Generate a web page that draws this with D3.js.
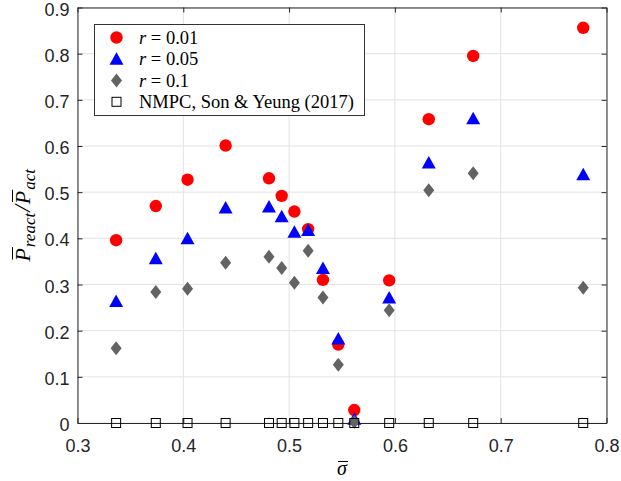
<!DOCTYPE html>
<html><head><meta charset="utf-8">
<script src="https://cdn.jsdelivr.net/npm/d3@7"></script>
<style>body{margin:0;background:#fff}svg{display:block}</style>
</head><body>
<script>
const sigma = [0.3365, 0.374, 0.404, 0.440, 0.481, 0.493, 0.505, 0.518, 0.532, 0.5465, 0.5616, 0.5946, 0.632, 0.674, 0.778];
const r001 = [0.396, 0.470, 0.527, 0.601, 0.530, 0.492, 0.458, 0.420, 0.310, 0.170, 0.028, 0.309, 0.658, 0.795, 0.856];
const r005 = [0.264, 0.357, 0.400, 0.467, 0.469, 0.448, 0.414, 0.418, 0.336, 0.183, 0.009, 0.272, 0.564, 0.660, 0.539];
const r01  = [0.162, 0.284, 0.291, 0.347, 0.360, 0.336, 0.304, 0.373, 0.272, 0.126, 0.002, 0.244, 0.504, 0.541, 0.293];
const nmpc = [0, 0, 0, 0, 0, 0, 0, 0, 0, 0, 0, 0, 0, 0, 0];
const xTicks = [0.3, 0.4, 0.5, 0.6, 0.7, 0.8];
const yTicks = [0, 0.1, 0.2, 0.3, 0.4, 0.5, 0.6, 0.7, 0.8, 0.9];
const legendLabels = ["r = 0.01", "r = 0.05", "r = 0.1", "NMPC, Son & Yeung (2017)"];

const W = 621, H = 481;
const L = 77.5, R = 606.5, T = 7.5, B = 423;
const x = d3.scaleLinear().domain([0.3, 0.8]).range([L, R]);
const y = d3.scaleLinear().domain([0, 0.9]).range([B, T]);

const svg = d3.select("body").append("svg").attr("width", W).attr("height", H);

// grid
const g = svg.append("g");
g.selectAll(".gx").data(xTicks).enter().append("line")
  .attr("x1", d => x(d)).attr("x2", d => x(d)).attr("y1", T).attr("y2", B)
  .attr("stroke", "#e3e3e3").attr("stroke-width", 1);
g.selectAll(".gy").data(yTicks).enter().append("line")
  .attr("y1", d => y(d)).attr("y2", d => y(d)).attr("x1", L).attr("x2", R)
  .attr("stroke", "#e3e3e3").attr("stroke-width", 1);

// axes
const font = "'Liberation Sans', Arial, sans-serif";
const axCol = "#262626";
const xAxis = svg.append("g").attr("transform", `translate(0,${B})`)
  .call(d3.axisBottom(x).tickValues(xTicks).tickFormat(d3.format(".1f")).tickSizeInner(-5).tickSizeOuter(0).tickPadding(16));
const xAxisTop = svg.append("g").attr("transform", `translate(0,${T})`)
  .call(d3.axisTop(x).tickValues(xTicks).tickFormat("").tickSizeInner(-5).tickSizeOuter(0));
const yAxis = svg.append("g").attr("transform", `translate(${L},0)`)
  .call(d3.axisLeft(y).tickValues(yTicks).tickFormat(d => d === 0 ? "0" : d3.format(".1f")(d)).tickSizeInner(-5).tickSizeOuter(0).tickPadding(8));
const yAxisR = svg.append("g").attr("transform", `translate(${R},0)`)
  .call(d3.axisRight(y).tickValues(yTicks).tickFormat("").tickSizeInner(-5).tickSizeOuter(0));
[xAxis, xAxisTop, yAxis, yAxisR].forEach(a => {
  a.select(".domain").attr("stroke", axCol);
  a.selectAll(".tick line").attr("stroke", axCol);
  a.selectAll("text").attr("fill", axCol).style("font-family", font).style("font-size", "18px");
});
xAxis.selectAll("text").attr("dy", "0.71em");
yAxis.selectAll("text").attr("dy", "0.42em");

// series
const pts = sigma.map((s, i) => ({s, a: r001[i], b: r005[i], c: r01[i], n: nmpc[i]}));
const tri = "M0,-6.5L7,6L-7,6Z";
const dia = "M0,-7L5.5,0L0,7L-5.5,0Z";

svg.append("g").selectAll("circle").data(pts).enter().append("circle")
  .attr("cx", d => x(d.s)).attr("cy", d => y(d.a)).attr("r", 6.2).attr("fill", "#ff0000");
svg.append("g").selectAll("path").data(pts).enter().append("path")
  .attr("d", tri).attr("transform", d => `translate(${x(d.s)},${y(d.b)})`).attr("fill", "#0000ff");
svg.append("g").selectAll("path").data(pts).enter().append("path")
  .attr("d", dia).attr("transform", d => `translate(${x(d.s)},${y(d.c)})`).attr("fill", "#636363");
svg.append("g").selectAll("rect").data(pts).enter().append("rect")
  .attr("x", d => x(d.s) - 4.5).attr("y", d => y(d.n) - 4.5).attr("width", 9).attr("height", 9)
  .attr("fill", "none").attr("stroke", "#000").attr("stroke-width", 1);

// legend
const serif = "'Liberation Serif', 'Times New Roman', serif";
const lg = svg.append("g");
lg.append("rect").attr("x", 94.5).attr("y", 24.5).attr("width", 270).attr("height", 91)
  .attr("fill", "#fff").attr("stroke", "#333").attr("stroke-width", 1);
const rowY = [37.5, 58.8, 80.5, 101.8];
const mx = 116.5;
lg.append("circle").attr("cx", mx).attr("cy", rowY[0]).attr("r", 6.2).attr("fill", "#ff0000");
lg.append("path").attr("d", tri).attr("transform", `translate(${mx},${rowY[1]})`).attr("fill", "#0000ff");
lg.append("path").attr("d", dia).attr("transform", `translate(${mx},${rowY[2]})`).attr("fill", "#636363");
lg.append("rect").attr("x", mx - 4.5).attr("y", rowY[3] - 4.5).attr("width", 9).attr("height", 9)
  .attr("fill", "none").attr("stroke", "#000");
legendLabels.forEach((lab, i) => {
  const t = lg.append("text").attr("x", 139).attr("y", rowY[i] + 6)
    .style("font-family", serif).style("font-size", "18.5px").attr("fill", "#000");
  if (lab.startsWith("r = ")) {
    t.append("tspan").style("font-style", "italic").text("r");
    t.append("tspan").text(" = " + lab.slice(4));
  } else {
    t.text(lab);
  }
});

// x label (sigma with overline)
const xl = svg.append("text").attr("x", (L + R) / 2).attr("y", 475)
  .attr("text-anchor", "middle").style("font-family", serif).style("font-size", "20px")
  .style("font-style", "italic").attr("fill", "#000")
  .text("σ");
const xb = xl.node().getBBox();
svg.append("line").attr("x1", xb.x + 1).attr("x2", xb.x + xb.width).attr("y1", 461.5).attr("y2", 461.5)
  .attr("stroke", "#000").attr("stroke-width", 1);

// y label
const yl = svg.append("g").attr("transform", `translate(30,${(T + B) / 2}) rotate(-90)`);
const yt = yl.append("text").attr("x", 0).attr("y", 0).attr("text-anchor", "middle")
  .style("font-family", serif).style("font-size", "22px").style("font-style", "italic").attr("fill", "#000");
const p1 = yt.append("tspan").text("P");
const s1 = yt.append("tspan").attr("dy", 5).attr("dx", 1).style("font-size", "17px").text("react");
const sl = yt.append("tspan").attr("dy", -5).attr("dx", 1).style("font-size", "24px").text("/");
const p2 = yt.append("tspan").attr("dx", 1).text("P");
const s2 = yt.append("tspan").attr("dy", 5).attr("dx", 1).style("font-size", "17px").text("act");
// overlines over both P's
[0, 1].forEach(k => {
  const node = yt.node();
  const idx = k === 0 ? 0 : p1.text().length + s1.text().length + sl.text().length;
  const st = node.getStartPositionOfChar(idx);
  const en = node.getEndPositionOfChar(idx);
  yl.append("line").attr("x1", st.x + 2).attr("x2", en.x + 1).attr("y1", -17.5).attr("y2", -17.5)
    .attr("stroke", "#000").attr("stroke-width", 1);
});
</script>
</body></html>
